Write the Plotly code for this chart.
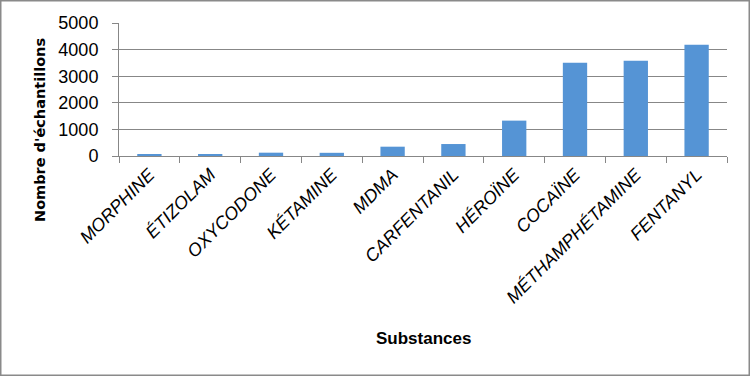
import plotly.graph_objects as go

categories = ["MORPHINE", "ÉTIZOLAM", "OXYCODONE", "KÉTAMINE", "MDMA",
              "CARFENTANIL", "HÉROÏNE", "COCAÏNE", "MÉTHAMPHÉTAMINE", "FENTANYL"]
values = [75, 70, 125, 120, 350, 450, 1330, 3510, 3580, 4180]
y_ticks = [0, 1000, 2000, 3000, 4000, 5000]

W, H = 750, 376
L, R, T, B = 119, 23, 23, 220
pw = W - L - R
ph = H - T - B

fig = go.Figure(go.Bar(
    x=categories, y=values,
    marker=dict(color="#5594d5", line=dict(width=0)),
    width=0.4,
))

grid = "#878787"
fig.update_layout(
    width=W, height=H,
    margin=dict(l=L, r=R, t=T, b=B, autoexpand=False),
    paper_bgcolor="white", plot_bgcolor="white",
    showlegend=False,
    xaxis=dict(
        type="category",
        showline=True, linecolor=grid, linewidth=1,
        ticks="outside", tickson="boundaries", ticklen=6, tickcolor=grid,
        tickangle=-45,
        tickfont=dict(family="Liberation Sans", size=18, color="black", style="italic"),
        showgrid=False, automargin=False,
    ),
    yaxis=dict(
        range=[0, 5000],
        tickvals=y_ticks,
        showgrid=True, gridcolor=grid, gridwidth=1,
        showline=True, linecolor=grid, linewidth=1,
        ticks="outside", ticklen=6, tickcolor=grid,
        ticklabelstandoff=10,
        tickfont=dict(family="Liberation Sans", size=18, color="black"),
        zeroline=False, automargin=False,
    ),
    annotations=[
        dict(text="Nombre d'échantillons", xref="paper", yref="paper",
             x=(40 - L) / pw, y=(T + ph - 130) / ph, textangle=-90,
             showarrow=False, xanchor="center", yanchor="middle",
             font=dict(family="DejaVu Sans", size=14.5, color="black", weight="bold")),
        dict(text="Substances", xref="paper", yref="paper",
             x=(423 - L) / pw, y=(T + ph - 338) / ph,
             showarrow=False, xanchor="center", yanchor="middle",
             font=dict(family="Liberation Sans", size=17, color="black", weight="bold")),
    ],
    shapes=[
        dict(type="rect", xref="paper", yref="paper",
             x0=(0.75 - L) / pw, x1=(W - 0.75 - L) / pw,
             y0=(T + ph - (H - 0.75)) / ph, y1=(T + ph - 0.75) / ph,
             line=dict(color="#8a8a8a", width=1.5), layer="above"),
    ],
)

fig.write_html("out.html", config={"displayModeBar": False},
               post_script="document.body.style.margin='0';")
